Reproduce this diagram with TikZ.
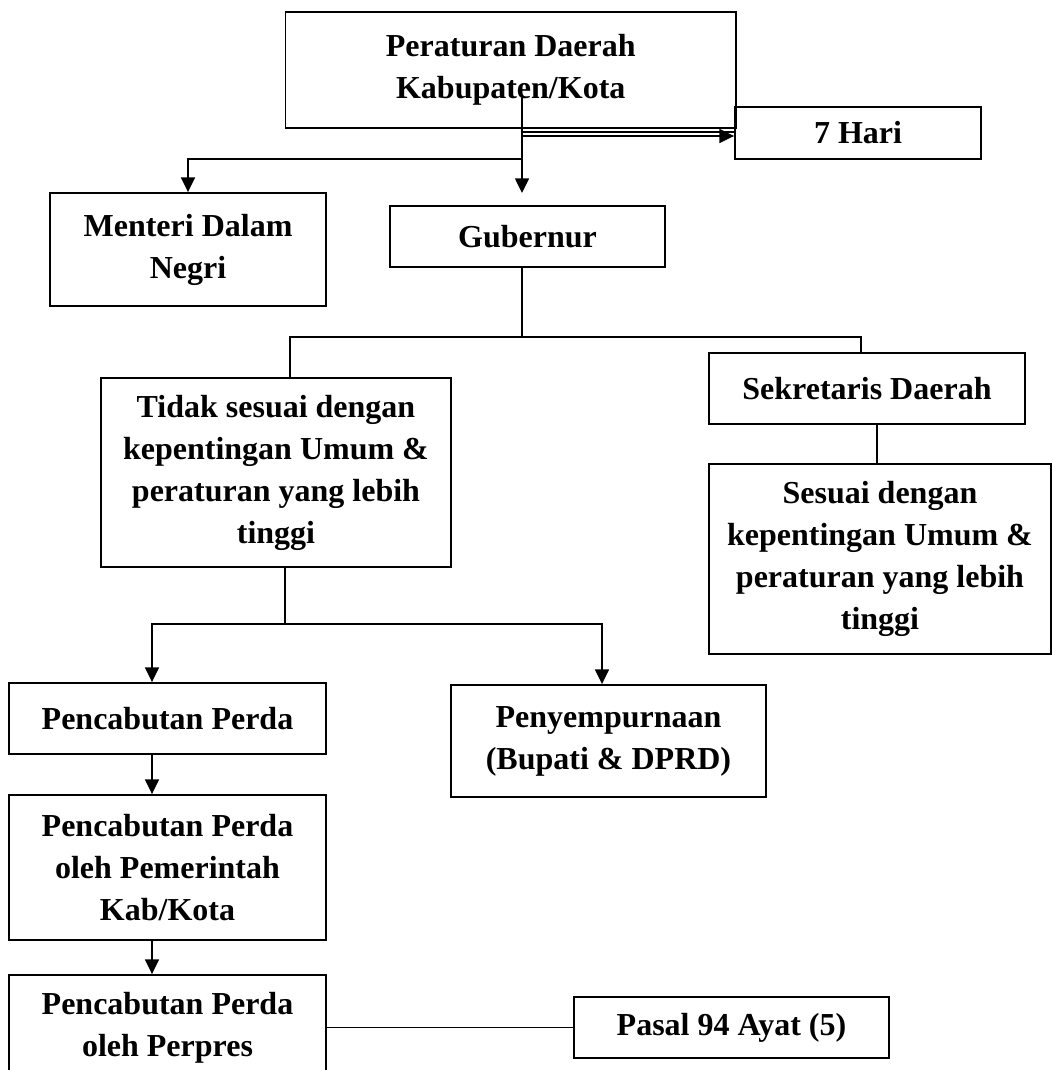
\documentclass[tikz,border=0pt]{standalone}
\usepackage{fontspec}
\setmainfont{Liberation Serif}
\usetikzlibrary{arrows.meta}

\tikzset{every picture/.style={line width=1.1pt}}
\tikzset{
  kotak/.style={draw, line width=1.4pt, inner sep=0pt, align=center, font=\bfseries\fontsize{24}{31.5}\selectfont},
  panah/.style={-{Triangle[length=11pt,width=10.5pt]}}
}

\begin{document}
\begin{tikzpicture}[x=0.75pt,y=0.75pt,yscale=-1,xscale=1]
\useasboundingbox (0,0) rectangle (1052,1070);
\clip (0,0) rectangle (1052,1070);

%Shape: Rectangle
\node [kotak, minimum width=337.9pt, minimum height=87pt] (perda) at (510.75,70) {Peraturan Daerah\\Kabupaten/Kota};
%Shape: Rectangle
\node [kotak, minimum width=184.5pt, minimum height=39pt] (hari) at (858,133) {7 Hari};
%Shape: Rectangle
\node [kotak, minimum width=207pt, minimum height=84.75pt] (menteri) at (188,249.5) {Menteri Dalam\\Negri};
%Shape: Rectangle
\node [kotak, minimum width=206.25pt, minimum height=45.75pt] (gub) at (527.5,236.5) {Gubernur};
%Shape: Rectangle
\node [kotak, minimum width=262.5pt, minimum height=141.75pt] (tidak) at (276,472.5) {Tidak sesuai dengan\\kepentingan Umum \&\\peraturan yang lebih\\tinggi};
%Shape: Rectangle
\node [kotak, minimum width=237pt, minimum height=53.25pt] (sekre) at (867,388.5) {Sekretaris Daerah};
%Shape: Rectangle
\node [kotak, minimum width=256.5pt, minimum height=142.5pt] (sesuai) at (880,559) {Sesuai dengan\\kepentingan Umum \&\\peraturan yang lebih\\tinggi};
%Shape: Rectangle
\node [kotak, minimum width=237.75pt, minimum height=53.25pt] (cabut) at (167.5,718.5) {Pencabutan Perda};
%Shape: Rectangle
\node [kotak, minimum width=236.25pt, minimum height=84pt] (sempurna) at (608.5,741) {Penyempurnaan\\(Bupati \& DPRD)};
%Shape: Rectangle
\node [kotak, minimum width=237.75pt, minimum height=108.75pt] (pemkab) at (167.5,867.5) {Pencabutan Perda\\oleh Pemerintah\\Kab/Kota};
%Shape: Rectangle
\node [kotak, minimum width=237.75pt, minimum height=78.75pt] (perpres) at (167.5,1027.5) {Pencabutan Perda\\oleh Perpres};
%Shape: Rectangle
\node [kotak, minimum width=236.25pt, minimum height=45.75pt] (pasal) at (731.5,1027.5) {Pasal 94 Ayat (5)};

%Straight Lines
\coordinate (garisA) at (522,95);
\coordinate (simpangM) at (522,159);
\coordinate (ujungG) at (522,193);
\draw [panah] (garisA) -- (ujungG);
\draw [panah] (simpangM) -| (menteri.north);
%Straight Lines
\coordinate (hariA) at (522,132);
\coordinate (hariB) at (522,136);
\draw (hariA) -- (hariA -| hari.west);
\draw [panah] (hariB) -- (hariB -| hari.west);
%Straight Lines
\coordinate (cabangL) at (290,337);
\coordinate (cabangR) at (861,337);
\draw (ujungG |- gub.south) -- (ujungG |- cabangL);
\draw (tidak.north -| cabangL) -- (cabangL) -- (cabangR) -- (sekre.north -| cabangR);
%Straight Lines
\coordinate (sekreX) at (877,0);
\draw (sekre.south -| sekreX) -- (sesuai.north -| sekreX);
%Straight Lines
\coordinate (tidakX) at (285,624);
\coordinate (bawahL) at (152,624);
\coordinate (bawahR) at (602,624);
\draw (tidak.south -| tidakX) -- (tidakX);
\draw [panah] (tidakX) -- (bawahL) -- (cabut.north -| bawahL);
\draw [panah] (tidakX) -- (bawahR) -- (sempurna.north -| bawahR);
%Straight Lines
\draw [panah] (cabut.south -| bawahL) -- (pemkab.north -| bawahL);
\draw [panah] (pemkab.south -| bawahL) -- (perpres.north -| bawahL);
\draw (pasal.west -| perpres.east) -- (pasal.west);

\end{tikzpicture}
\end{document}
